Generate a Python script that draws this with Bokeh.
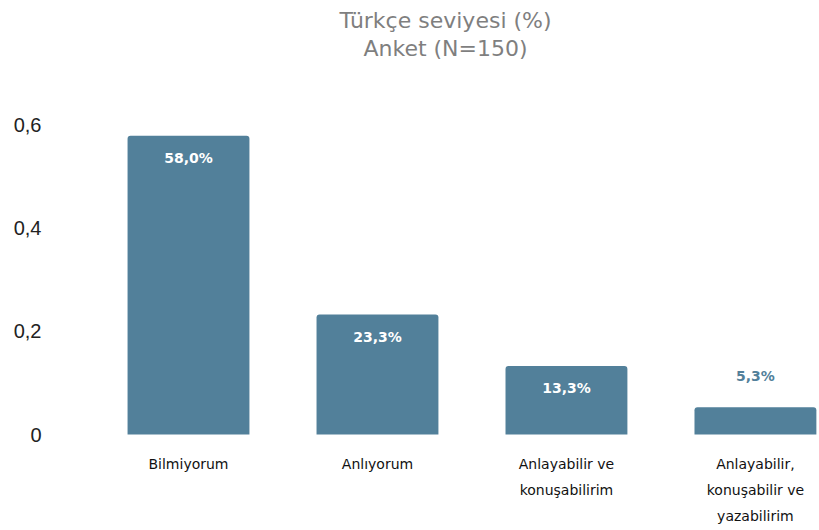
from bokeh.plotting import figure
from bokeh.models import ColumnDataSource, FixedTicker, Range1d
from bokeh.core.properties import value
from bokeh.embed import file_html
from bokeh.resources import INLINE

# ---- data ----
categories = ["Bilmiyorum", "Anlıyorum", "Anlayabilir ve\nkonuşabilirim",
              "Anlayabilir,\nkonuşabilir ve\nyazabilirim"]
shares = [0.58, 0.233, 0.133, 0.053]
y_ticks = [0, 0.2, 0.4, 0.6]
y_tick_labels = ["0", "0,2", "0,4", "0,6"]
title_lines = ["Türkçe seviyesi (%)", "Anket (N=150)"]

BAR = "#52809a"
xs = list(range(len(categories)))
labels = [f"{v*100:.1f}%".replace(".", ",") for v in shares]
inside = [v > 0.1 for v in shares]

p = figure(width=819, height=530, output_backend="svg", toolbar_location=None,
           x_range=Range1d(-0.4974, 3.339), y_range=Range1d(-0.1864, 0.8427),
           min_border_left=94, min_border_right=0, min_border_top=0, min_border_bottom=0)
p.outline_line_color = None
p.xgrid.visible = False
p.ygrid.visible = False
p.xaxis.visible = False

yax = p.yaxis[0]
yax.ticker = FixedTicker(ticks=y_ticks)
yax.major_label_overrides = {t: l for t, l in zip(y_ticks, y_tick_labels)}
yax.axis_line_color = None
yax.major_tick_line_color = None
yax.minor_tick_line_color = None
yax.major_label_standoff = 47
yax.major_label_text_font = "Liberation Sans"
yax.major_label_text_font_size = "20px"
yax.major_label_text_color = "#222222"

src = ColumnDataSource(dict(x=xs, top=shares, cat=categories, lab=labels))
p.vbar(x="x", top="top", bottom=0, width=0.645, source=src,
       fill_color=BAR, line_color=None, border_radius=[3, 3, 0, 0])

# value labels
in_src = ColumnDataSource(dict(x=[x for x, i in zip(xs, inside) if i],
                               y=[v for v, i in zip(shares, inside) if i],
                               t=[l for l, i in zip(labels, inside) if i]))
out_src = ColumnDataSource(dict(x=[x for x, i in zip(xs, inside) if not i],
                                y=[v for v, i in zip(shares, inside) if not i],
                                t=[l for l, i in zip(labels, inside) if not i]))
p.text(x="x", y="y", text="t", source=in_src, y_offset=22,
       text_align="center", text_baseline="middle", text_color="white",
       text_font=value("DejaVu Sans"), text_font_size="14px", text_font_style="bold")
p.text(x="x", y="y", text="t", source=out_src, y_offset=-31,
       text_align="center", text_baseline="middle", text_color=BAR,
       text_font=value("DejaVu Sans"), text_font_size="14px", text_font_style="bold")

# category labels
p.text(x="x", y=-0.0427, text="cat", source=src,
       text_align="center", text_baseline="top", text_color="#111111",
       text_line_height=1.62,
       text_font=value("DejaVu Sans"), text_font_size="14px")

# titles
p.text(x=[1.36, 1.36], y=[0.804, 0.7495], text=title_lines,
       text_align="center", text_baseline="middle", text_color="#7f7f7f",
       text_font=value("DejaVu Sans"), text_font_size="22px")

open("out.html", "w").write(file_html(p, INLINE))
